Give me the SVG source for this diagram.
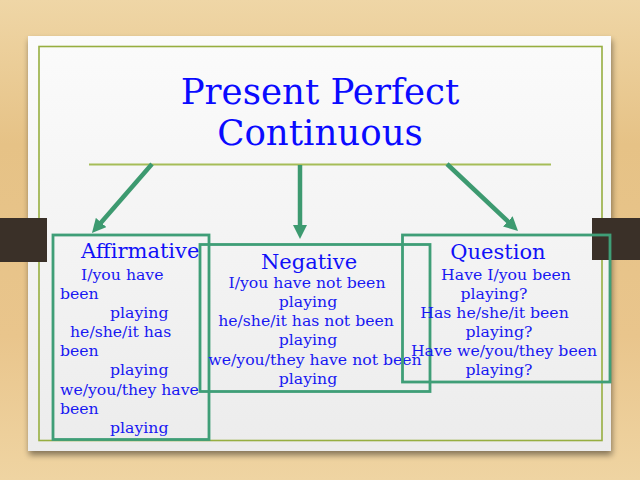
<svg xmlns="http://www.w3.org/2000/svg" width="640" height="480" viewBox="0 0 640 480">
  <defs>
    <linearGradient id="wood" x1="0" y1="0" x2="0" y2="1">
      <stop offset="0" stop-color="#efd6a6"/>
      <stop offset="0.3" stop-color="#e6c286"/>
      <stop offset="0.7" stop-color="#e9c58c"/>
      <stop offset="1" stop-color="#efd4a2"/>
    </linearGradient>
    <linearGradient id="paperGrad" x1="0" y1="0" x2="0" y2="1">
      <stop offset="0" stop-color="#fbfbfb"/>
      <stop offset="1" stop-color="#ececec"/>
    </linearGradient>
    <filter id="shadow" x="-5%" y="-5%" width="110%" height="115%">
      <feGaussianBlur in="SourceAlpha" stdDeviation="3"/>
      <feOffset dx="1" dy="4" result="b"/>
      <feComponentTransfer><feFuncA type="linear" slope="0.45"/></feComponentTransfer>
      <feMerge><feMergeNode/><feMergeNode in="SourceGraphic"/></feMerge>
    </filter>
    <marker id="head" viewBox="0 0 14 14" refX="6" refY="7" markerWidth="14" markerHeight="14" markerUnits="userSpaceOnUse" orient="auto">
      <path d="M0,0 L14,7 L0,14 z" fill="#3d9a70"/>
    </marker>
    <style>
      .box { fill: none; stroke: #3f9e77; stroke-width: 2.8; }
      .conn { stroke: #3d9a70; stroke-width: 4.5; fill: none; marker-end: url(#head); }
      .hdr { font-family: "DejaVu Serif", serif; font-size: 21px; fill: #1010f8; }
      .body { font-family: "DejaVu Serif", serif; font-size: 15.7px; fill: #1818f2; }
      .title { font-family: "DejaVu Serif", serif; font-size: 35.6px; fill: #0a0aff; text-anchor: middle; }
      .mid { text-anchor: middle; }
    </style>
  </defs>

  <rect x="0" y="0" width="640" height="480" fill="url(#wood)"/>
  <rect x="28" y="36" width="583" height="415" fill="url(#paperGrad)" filter="url(#shadow)"/>
  <rect x="39" y="46.5" width="563" height="394" fill="none" stroke="#97ae40" stroke-width="1.6"/>

  <!-- dark tabs -->
  <rect x="0" y="218" width="47" height="44" fill="#3a3028"/>
  <rect x="592" y="218" width="48" height="42" fill="#3a3028"/>

  <line x1="89" y1="164.5" x2="551" y2="164.5" stroke="#a6bd58" stroke-width="2"/>

  <g id="title">
    <text class="title" x="320" y="104">Present Perfect</text>
    <text class="title" x="320" y="145">Continuous</text>
  </g>

  <g id="connectors">
    <line class="conn" x1="152" y1="164" x2="97.2" y2="227"/>
    <line class="conn" x1="300" y1="165" x2="300" y2="231"/>
    <line class="conn" x1="447" y1="164" x2="512.2" y2="225.5"/>
  </g>

  <g id="affirmative">
    <rect class="box" x="53" y="235" width="156" height="204.5"/>
    <text class="hdr" x="81" y="258">Affirmative</text>
    <text class="body" x="81" y="280">I/you have</text>
    <text class="body" x="60" y="299">been</text>
    <text class="body" x="110" y="318">playing</text>
    <text class="body" x="70" y="337">he/she/it has</text>
    <text class="body" x="60" y="356">been</text>
    <text class="body" x="110" y="375">playing</text>
    <text class="body" x="60" y="395">we/you/they have</text>
    <text class="body" x="60" y="414">been</text>
    <text class="body" x="110" y="433">playing</text>
  </g>

  <g id="negative">
    <rect class="box" x="200" y="244.5" width="230" height="147"/>
    <text class="hdr mid" x="309" y="269">Negative</text>
    <text class="body mid" x="307" y="288">I/you have not been</text>
    <text class="body mid" x="308" y="307">playing</text>
    <text class="body mid" x="306" y="326">he/she/it has not been</text>
    <text class="body mid" x="308" y="345">playing</text>
    <text class="body mid" x="315" y="365">we/you/they have not been</text>
    <text class="body mid" x="308" y="384">playing</text>
  </g>

  <g id="question">
    <rect class="box" x="402.5" y="235" width="207.5" height="147"/>
    <text class="hdr mid" x="498" y="259">Question</text>
    <text class="body mid" x="506" y="280">Have I/you been</text>
    <text class="body mid" x="494" y="299">playing?</text>
    <text class="body mid" x="494.5" y="318">Has he/she/it been</text>
    <text class="body mid" x="499" y="337">playing?</text>
    <text class="body mid" x="504" y="356">Have we/you/they been</text>
    <text class="body mid" x="499" y="375">playing?</text>
  </g>
</svg>
